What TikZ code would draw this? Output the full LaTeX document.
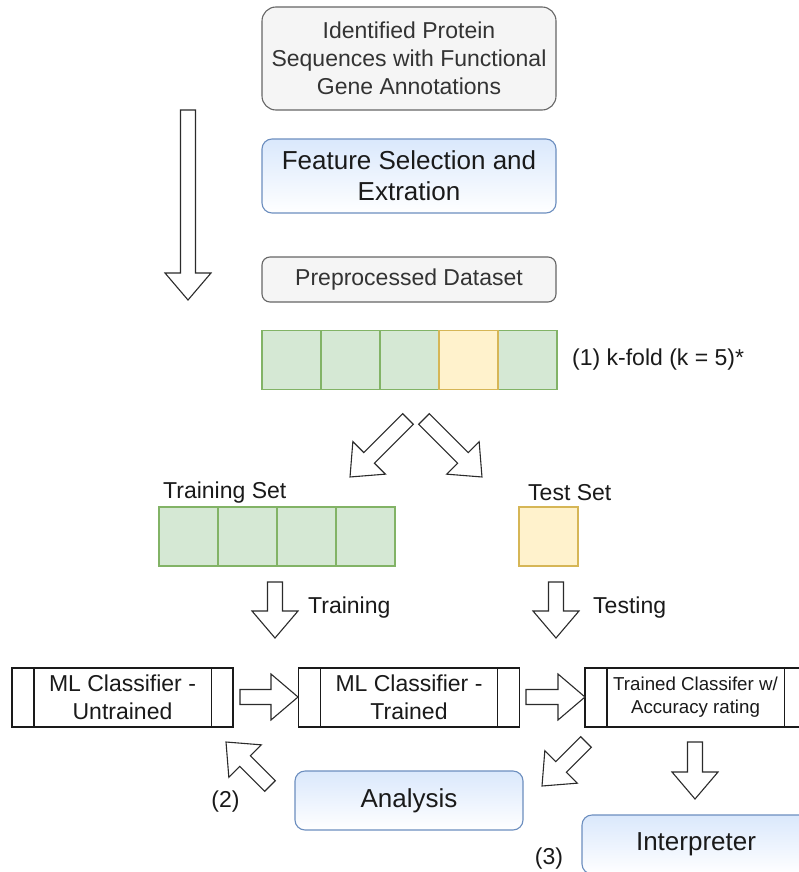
\documentclass[tikz,border=0pt]{standalone}
\usepackage{fontspec}
\setmainfont{Liberation Sans}
\usetikzlibrary{calc}
\definecolor{gfill}{HTML}{F5F5F5}
\definecolor{gstroke}{HTML}{666666}
\definecolor{gtext}{HTML}{333333}
\definecolor{bfill}{HTML}{DAE8FC}
\definecolor{bstroke}{HTML}{6C8EBF}
\definecolor{cgfill}{HTML}{D5E8D4}
\definecolor{cgstroke}{HTML}{82B366}
\definecolor{cyfill}{HTML}{FFF2CC}
\definecolor{cystroke}{HTML}{D6B656}
\definecolor{ink}{HTML}{1A1A1A}
\definecolor{arrowink}{HTML}{2B2B2B}
\tikzset{
  every node/.style={font=\fontsize{23}{28}\selectfont, text=ink, inner sep=0pt},
  graybox/.style={draw=gstroke, fill=gfill, line width=1.1pt, align=center, text=gtext},
  bluebox/.style={draw=bstroke, top color=bfill, bottom color=white, rounded corners=10pt,
    line width=1.1pt, align=center, font=\fontsize{26}{31}\selectfont},
  gcell/.style={draw=cgstroke, fill=cgfill, minimum width=59pt, minimum height=59pt, line width=1.1pt},
  ycell/.style={draw=cystroke, fill=cyfill, minimum width=59pt, minimum height=59pt, line width=1.1pt},
  procbox/.style={draw=ink, fill=white, minimum width=221pt, minimum height=59pt, line width=1.1pt, align=center},
  barrow/.style={draw=arrowink, fill=white, line width=1.1pt, line join=miter},
  lbl/.style={anchor=west},
}
\newcommand{\blockarrow}[2]{%
  \draw[barrow] let \p1=(#1), \p2=(#2), \n1={atan2(\y2-\y1,\x2-\x1)}, \n2={veclen(\x2-\x1,\y2-\y1)} in
    [shift={(\p1)}, rotate=\n1] (0,-7.5) -- ({\n2-27},-7.5) -- ({\n2-27},-23) -- ({\n2},0)
    -- ({\n2-27},23) -- ({\n2-27},7.5) -- (0,7.5) -- cycle;
}
\newcommand{\procbars}[1]{%
  \draw[draw=ink, line width=1.1pt] ([xshift=22.5pt]#1.north west) -- ([xshift=22.5pt]#1.south west);
  \draw[draw=ink, line width=1.1pt] ([xshift=-22.5pt]#1.north east) -- ([xshift=-22.5pt]#1.south east);
}
\begin{document}
\begin{tikzpicture}[x=1pt, y=-1pt]
\useasboundingbox (0,0) rectangle (799,872);
\clip (0,0) rectangle (799,872);
\fill[white] (0,0) rectangle (799,872);

% top boxes
\node[graybox, rounded corners=14pt, minimum width=294pt, minimum height=103pt] (ident) at (409,58.5)
  {Identified Protein\\Sequences with Functional\\Gene Annotations};
\node[bluebox, minimum width=294pt, minimum height=74pt] (feat) at (409,176)
  {Feature Selection and\\Extration};
\node[graybox, rounded corners=8pt, minimum width=294pt, minimum height=45pt] (prep) at (409,279.5)
  {Preprocessed Dataset};

% big down arrow
\coordinate (bigT) at (188,110);
\coordinate (bigH) at (188,300);
\blockarrow{bigT}{bigH}

% k-fold row
\node[gcell] (k1) at (291.5,360) {};
\node[gcell] (k2) at (350.5,360) {};
\node[gcell] (k3) at (409.5,360) {};
\node[gcell] (k5) at (527.5,360) {};
\node[ycell] (k4) at (468.5,360) {};
\node[lbl] (klbl) at (572,360) {(1) k-fold (k = 5)*};

% split arrows
\coordinate (sLT) at (408,419);
\coordinate (sLH) at (350,477);
\coordinate (sRT) at (424,419);
\coordinate (sRH) at (482,477);
\blockarrow{sLT}{sLH}
\blockarrow{sRT}{sRH}

% training / test sets
\node[lbl] (trlbl) at (163,493) {Training Set};
\node[lbl] (tslbl) at (528,493) {Test Set};
\node[gcell] (t1) at (188.5,536.5) {};
\node[gcell] (t2) at (247.5,536.5) {};
\node[gcell] (t3) at (306.5,536.5) {};
\node[gcell] (t4) at (365.5,536.5) {};
\node[ycell] (ts) at (548.5,536.5) {};

% training / testing arrows
\coordinate (trT) at (275,582);
\coordinate (trH) at (275,638);
\coordinate (teT) at (556,582);
\coordinate (teH) at (556,638);
\blockarrow{trT}{trH}
\blockarrow{teT}{teH}
\node[lbl] (trn) at (308,608) {Training};
\node[lbl] (tst) at (593,608) {Testing};

% classifiers
\node[procbox] (mlu) at (122.5,697.5) {ML Classifier -\\Untrained};
\procbars{mlu}
\node[procbox] (mlt) at (409,697.5) {ML Classifier -\\Trained};
\procbars{mlt}
\node[procbox, font=\fontsize{18.7}{23}\selectfont] (acc) at (695.5,697.5) {Trained Classifer w/\\Accuracy rating};
\procbars{acc}

\coordinate (a1T) at (240,697);
\coordinate (a1H) at (298,697);
\coordinate (a2T) at (526,697);
\coordinate (a2H) at (585,697);
\blockarrow{a1T}{a1H}
\blockarrow{a2T}{a2H}

% bottom
\node[bluebox, minimum width=228pt, minimum height=59pt] (anal) at (409,800.5) {\raisebox{-2pt}{Analysis}};
\node[bluebox, minimum width=228pt, minimum height=59pt] (interp) at (696,844.5) {\raisebox{-2pt}{Interpreter}};

\coordinate (fbT) at (270,786);
\coordinate (fbH) at (226,742);
\blockarrow{fbT}{fbH}
\coordinate (anT) at (586,742);
\coordinate (anH) at (542,786);
\blockarrow{anT}{anH}
\coordinate (inT) at (695,742);
\coordinate (inH) at (695,799);
\blockarrow{inT}{inH}

\node (two) at (225.5,802) {(2)};
\node (three) at (549,859) {(3)};
\end{tikzpicture}
\end{document}
